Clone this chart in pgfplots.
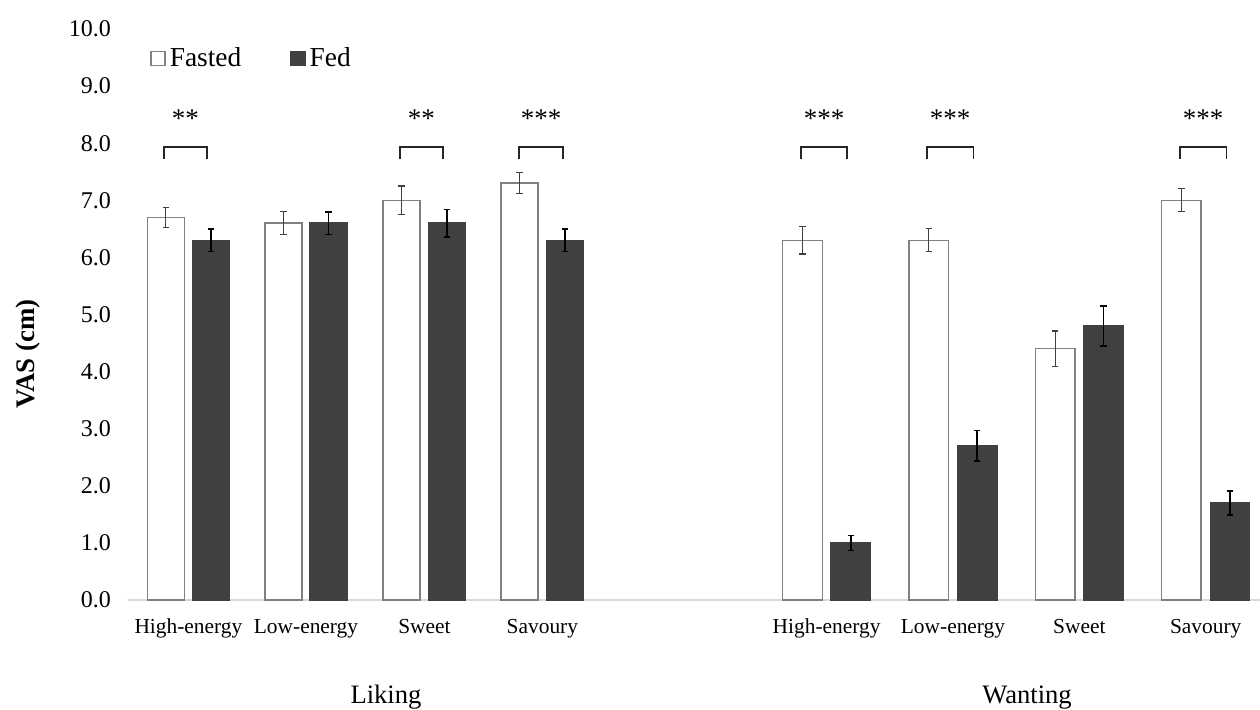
\documentclass[border=0pt]{standalone}
\usepackage{pgfplots}
\pgfplotsset{compat=1.18}
\usepackage{pgfplotstable}
\usepackage{fontspec}
\setmainfont{Liberation Serif}
\definecolor{fedgray}{HTML}{404040}
\definecolor{edgegray}{HTML}{808080}
\definecolor{axisgray}{HTML}{D9D9D9}

% Liking
\pgfplotstableread{
x y e
165.9 6.7 0.17
283.5 6.6 0.20
401.5 7.0 0.25
519.5 7.3 0.18
}\likefasted
\pgfplotstableread{
x y e
210.8 6.3 0.20
328.5 6.6 0.20
447.2 6.6 0.24
565.2 6.3 0.20
}\likefed
% Wanting
\pgfplotstableread{
x y e
802.5 6.3 0.24
928.8 6.3 0.20
1055.2 4.4 0.31
1181.3 7.0 0.20
}\wantfasted
\pgfplotstableread{
x y e
850.7 1.0 0.13
977.2 2.7 0.27
1103.3 4.8 0.35
1230.0 1.7 0.21
}\wantfed

\newcommand{\bracket}[2]{\draw[line width=0.9pt, black!85] (axis cs:#1,7.72) -- (axis cs:#1,7.93) -- (axis cs:#2,7.93) -- (axis cs:#2,7.72);}
\newcommand{\stars}[2]{\node[font=\fontsize{13.5}{15}\selectfont, anchor=center] at (axis cs:#1,8.43) {#2};}

\begin{document}
\begin{tikzpicture}
\path[use as bounding box] (0,0) rectangle (630pt,354.5pt);
\begin{axis}[
  at={(64pt,54.5pt)}, anchor=south west,
  scale only axis, width=566pt, height=285.5pt,
  xmin=128, xmax=1260, ymin=0, ymax=10,
  clip=false,
  ybar,
  axis x line*=bottom, axis y line*=left,
  x axis line style={axisgray, line width=0.9pt, -},
  y axis line style={draw=none},
  major tick length=0pt,
  ytick={0,1,...,10},
  /pgf/number format/assume math mode=true,
  yticklabel style={/pgf/number format/.cd, fixed, fixed zerofill, precision=1, /tikz/.cd,
    font=\fontsize{12}{14}\selectfont, xshift=-5pt},
  xtick={188.4,306,424.4,542.4,826.6,953,1079.3,1205.7},
  xticklabels={High-energy,Low-energy,Sweet,Savoury,High-energy,Low-energy,Sweet,Savoury},
  xticklabel style={font=\fontsize{10.7}{12}\selectfont, yshift=-6pt},
  ylabel={VAS (cm)},
  ylabel style={at={(axis description cs:-0.0883,0.431)}, anchor=center,
    font=\bfseries\fontsize{13.4}{15}\selectfont},
  legend columns=2,
  legend style={at={(axis cs:150,9.48)}, anchor=west, draw=none, fill=none,
    font=\fontsize{13.7}{15}\selectfont, inner sep=0pt,
    /tikz/every even column/.append style={column sep=22.5pt}},
  legend image code/.code={\draw[#1] (0pt,-3.5pt) rectangle (7pt,3.5pt);},
  error bars/y dir=both, error bars/y explicit,
]
\addplot[fill=white, draw=edgegray, line width=0.7pt, bar width=37, bar shift=0pt,
  error bars/error bar style={line width=0.6pt, black!75},
  error bars/error mark options={rotate=90, mark size=1.6pt, line width=0.6pt, black!75}]
  table[x=x, y=y, y error=e]{\likefasted};
\addlegendentry{Fasted}
\addplot[fill=fedgray, draw=fedgray, line width=0.7pt, bar width=37, bar shift=0pt,
  error bars/error bar style={line width=0.8pt, black},
  error bars/error mark options={rotate=90, mark size=1.6pt, line width=0.8pt, black}]
  table[x=x, y=y, y error=e]{\likefed};
\addlegendentry{Fed}
\addplot[forget plot, fill=white, draw=edgegray, line width=0.7pt, bar width=39.5, bar shift=0pt,
  error bars/error bar style={line width=0.6pt, black!75},
  error bars/error mark options={rotate=90, mark size=1.6pt, line width=0.6pt, black!75}]
  table[x=x, y=y, y error=e]{\wantfasted};
\addplot[forget plot, fill=fedgray, draw=fedgray, line width=0.7pt, bar width=39.5, bar shift=0pt,
  error bars/error bar style={line width=0.8pt, black},
  error bars/error mark options={rotate=90, mark size=1.6pt, line width=0.8pt, black}]
  table[x=x, y=y, y error=e]{\wantfed};

% significance brackets
\bracket{164}{207}
\bracket{400}{443}
\bracket{519}{563}
\bracket{801}{847}
\bracket{927}{973.5}
\bracket{1180}{1226.5}
\stars{185.5}{**}
\stars{421.5}{**}
\stars{541}{***}
\stars{824}{***}
\stars{950}{***}
\stars{1203}{***}
\node[anchor=base, font=\fontsize{13.3}{15}\selectfont] at (axis cs:386,-1.82) {Liking};
\node[anchor=base, font=\fontsize{13.3}{15}\selectfont] at (axis cs:1027,-1.82) {Wanting};
\end{axis}
\end{tikzpicture}
\end{document}
